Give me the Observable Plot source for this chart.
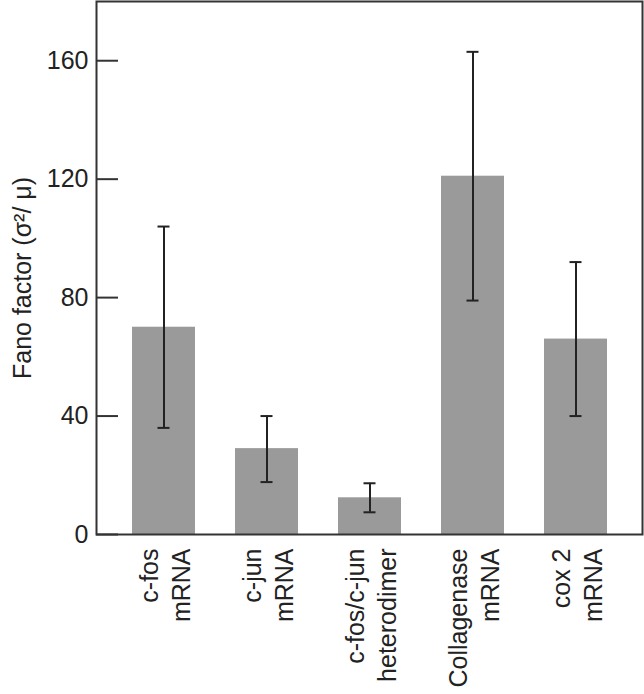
<!DOCTYPE html>
<html><head><meta charset="utf-8">
<script src="https://cdn.jsdelivr.net/npm/d3@7"></script>
<script src="https://cdn.jsdelivr.net/npm/@observablehq/plot@0.6"></script>
<style>body{margin:0;background:#fff;} svg{display:block}</style>
</head><body><div id="chart"></div>
<script>
const categories = ["c-fos\nmRNA", "c-jun\nmRNA", "c-fos/c-jun\nheterodimer", "Collagenase\nmRNA", "cox 2\nmRNA"];
const fano = [70, 29, 12.4, 121, 66];
const errLow = [36, 17.7, 7.5, 79, 40];
const errHigh = [104, 40, 17.3, 163, 92];
const yTicks = [0, 40, 80, 120, 160];
const yLabel = "Fano factor (σ²/ μ)";

const data = categories.map((c, i) => ({cat: c, value: fano[i], lo: errLow[i], hi: errHigh[i]}));
const font = "'Liberation Sans', Arial, Helvetica, sans-serif";

const chart = Plot.plot({
  width: 644, height: 694,
  marginLeft: 96, marginRight: 2, marginTop: 1, marginBottom: 160,
  style: {fontFamily: font, fontSize: "25px", background: "#fff", color: "#222"},
  x: {domain: categories, paddingInner: 0.393, paddingOuter: 0.327, axis: null},
  y: {domain: [0, 180]},
  marks: [
    Plot.barY(data, {x: "cat", y: "value", fill: "#9a9a9a"}),
    Plot.ruleX(data, {x: "cat", y1: "lo", y2: "hi", stroke: "#222", strokeWidth: 2}),
    Plot.tickY(data, {x: "cat", y: "lo", stroke: "#222", strokeWidth: 2, insetLeft: 25.5, insetRight: 25.5}),
    Plot.tickY(data, {x: "cat", y: "hi", stroke: "#222", strokeWidth: 2, insetLeft: 25.5, insetRight: 25.5}),
    Plot.tickY(yTicks, {y: d => d, stroke: "#333", strokeWidth: 2, insetRight: 524}),
    Plot.axisY({ticks: yTicks, tickSize: 0, tickPadding: 8, fontSize: 25, tickFormat: d => d, label: null, fill: "#222"}),
    Plot.text(data, {x: "cat", text: "cat", frameAnchor: "bottom", rotate: -90, textAnchor: "end", lineAnchor: "middle", lineHeight: 1.25, dy: 14, fontSize: 25, fill: "#222"}),
    Plot.text([yLabel], {text: d => d, frameAnchor: "left", rotate: -90, textAnchor: "middle", dx: -74, dy: 10, fontSize: 25, fill: "#222"}),
    Plot.frame({stroke: "#333", strokeWidth: 2})
  ]
});
document.getElementById("chart").appendChild(chart);
</script>
</body></html>
